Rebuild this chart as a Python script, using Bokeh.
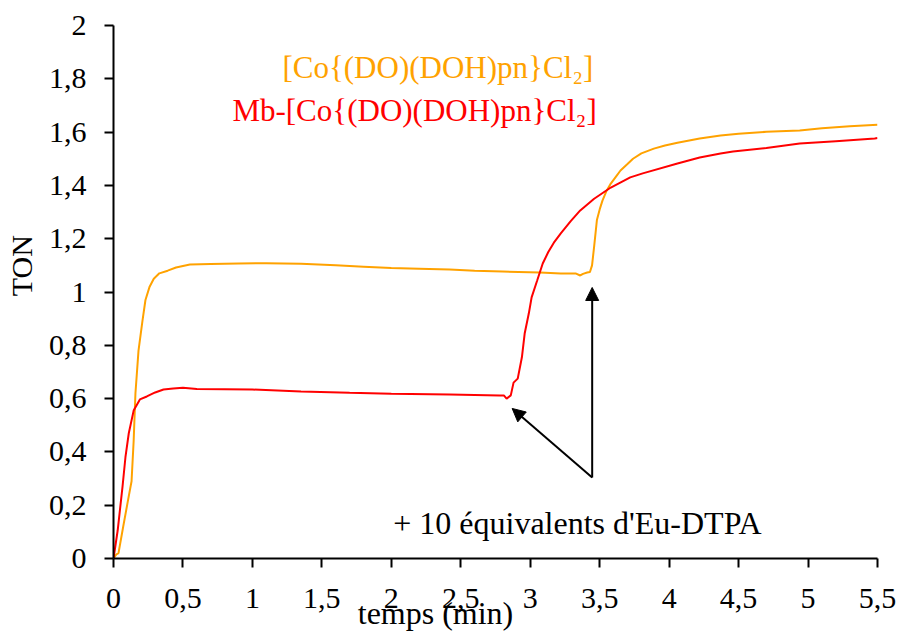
from bokeh.plotting import figure
from bokeh.models import Range1d, FixedTicker, Label, Arrow, NormalHead
from bokeh.embed import file_html
from bokeh.resources import INLINE

# ---------------- data ----------------
orange_x = [0, 0.02, 0.036, 0.07, 0.105, 0.13, 0.145, 0.158, 0.18, 0.208, 0.23, 0.26, 0.29,
            0.33, 0.39, 0.45, 0.55, 0.7, 0.9, 1.1, 1.35, 1.6, 1.8, 2.0, 2.2, 2.42, 2.6, 2.8,
            3.07, 3.22, 3.33, 3.36, 3.38, 3.41, 3.43, 3.445, 3.46, 3.48, 3.50, 3.52, 3.55,
            3.58, 3.62, 3.65, 3.70, 3.74, 3.80, 3.89, 3.97, 4.06, 4.22, 4.37, 4.5, 4.7,
            4.94, 5.1, 5.3, 5.5]
orange_y = [0, 0.015, 0.02, 0.12, 0.22, 0.29, 0.44, 0.62, 0.78, 0.89, 0.97, 1.02, 1.05,
            1.07, 1.08, 1.092, 1.103, 1.105, 1.107, 1.108, 1.106, 1.100, 1.095, 1.090, 1.087,
            1.084, 1.080, 1.077, 1.073, 1.069, 1.069, 1.062, 1.068, 1.073, 1.075, 1.10, 1.17,
            1.27, 1.31, 1.343, 1.38, 1.407, 1.435, 1.456, 1.48, 1.50, 1.52, 1.538, 1.55,
            1.56, 1.576, 1.587, 1.594, 1.601, 1.606, 1.614, 1.622, 1.628]

red_x = [0, 0.03, 0.065, 0.086, 0.11, 0.145, 0.19, 0.24, 0.30, 0.36, 0.43, 0.5, 0.6, 0.8,
         1.0, 1.35, 1.7, 2.0, 2.42, 2.78, 2.81, 2.83, 2.86, 2.88, 2.91, 2.94, 2.96, 2.99,
         3.01, 3.05, 3.09, 3.13, 3.17, 3.22, 3.29, 3.36, 3.46, 3.58, 3.72, 3.81, 4.06,
         4.22, 4.37, 4.46, 4.7, 4.94, 5.2, 5.48, 5.5]
red_y = [0, 0.105, 0.27, 0.38, 0.47, 0.555, 0.597, 0.608, 0.623, 0.634, 0.638, 0.641, 0.636,
         0.635, 0.634, 0.627, 0.622, 0.618, 0.615, 0.612, 0.612, 0.600, 0.612, 0.66, 0.675,
         0.755, 0.844, 0.92, 0.98, 1.043, 1.107, 1.15, 1.185, 1.22, 1.265, 1.306, 1.35,
         1.392, 1.43, 1.445, 1.482, 1.505, 1.52, 1.527, 1.54, 1.557, 1.566, 1.576, 1.578]

x_ticks = [0, 0.5, 1, 1.5, 2, 2.5, 3, 3.5, 4, 4.5, 5, 5.5]
x_tick_labels = ["0", "0,5", "1", "1,5", "2", "2,5", "3", "3,5", "4", "4,5", "5", "5,5"]
y_ticks = [0, 0.2, 0.4, 0.6, 0.8, 1, 1.2, 1.4, 1.6, 1.8, 2]
y_tick_labels = ["0", "0,2", "0,4", "0,6", "0,8", "1", "1,2", "1,4", "1,6", "1,8", "2"]

series_names = ["[Co{(DO)(DOH)pn}Cl\u2082]", "Mb-[Co{(DO)(DOH)pn}Cl\u2082]"]
series_colors = ["#FFA200", "#FF0000"]

x_title = "temps (min)"
y_title = "TON"
annotation_text = "+ 10 \u00e9quivalents d'Eu-DTPA"
arrow_start = (3.446, 0.304)
arrow_ends = [(2.87, 0.563), (3.446, 1.017)]

FONT = "Liberation Serif"
NBSP = "\u00a0"

# ---------------- figure ----------------
p = figure(width=900, height=635, output_backend="svg", toolbar_location=None,
           x_range=Range1d(0, 5.5), y_range=Range1d(0, 2),
           min_border_left=113, min_border_right=23, min_border_top=25, min_border_bottom=77)
p.outline_line_color = None
p.xgrid.grid_line_color = None
p.ygrid.grid_line_color = None
p.background_fill_color = "white"
p.border_fill_color = "white"

for ax in (p.xaxis, p.yaxis):
    ax.axis_line_color = "black"
    ax.axis_line_width = 2
    ax.major_tick_line_color = "black"
    ax.major_tick_line_width = 2
    ax.major_tick_in = 0
    ax.major_tick_out = 9
    ax.minor_tick_line_color = None
    ax.major_label_text_font = FONT
    ax.major_label_text_font_size = "30px"
    ax.major_label_text_color = "black"
    ax.axis_label_text_font = FONT
    ax.axis_label_text_font_style = "normal"
    ax.axis_label_text_color = "black"

p.xaxis.ticker = FixedTicker(ticks=x_ticks)
p.xaxis.major_label_overrides = {t: l for t, l in zip(x_ticks, x_tick_labels)}
p.xaxis.major_label_standoff = 21
p.yaxis.ticker = FixedTicker(ticks=y_ticks)
p.yaxis.major_label_overrides = {t: l for t, l in zip(y_ticks, y_tick_labels)}
p.yaxis.major_label_standoff = 18

# axis titles (non-breaking spaces shift them off-centre as in the reference)
p.xaxis.axis_label = x_title + NBSP * 15
p.xaxis.axis_label_text_font_size = "32px"
p.xaxis.axis_label_standoff = -16
p.yaxis.axis_label = NBSP * 7 + y_title
p.yaxis.axis_label_text_font_size = "30px"
p.yaxis.axis_label_standoff = 8

p.line(orange_x, orange_y, line_color=series_colors[0], line_width=2)
p.line(red_x, red_y, line_color=series_colors[1], line_width=2)

# legend-like labels
p.add_layout(Label(x=1.216, y=1.842, text=series_names[0], text_color=series_colors[0],
                   text_font=FONT, text_font_size="31px", text_baseline="alphabetic"))
p.add_layout(Label(x=0.856, y=1.681, text=series_names[1], text_color=series_colors[1],
                   text_font=FONT, text_font_size="31px", text_baseline="alphabetic"))

# annotation
p.add_layout(Label(x=2.014, y=0.135, text=annotation_text, text_color="black",
                   text_font=FONT, text_font_size="32px", text_baseline="alphabetic"))
for ex, ey in arrow_ends:
    p.add_layout(Arrow(x_start=arrow_start[0], y_start=arrow_start[1], x_end=ex, y_end=ey,
                       line_color="black", line_width=2,
                       end=NormalHead(size=13, fill_color="black", line_color="black")))

open("out.html", "w").write(file_html(p, INLINE))
